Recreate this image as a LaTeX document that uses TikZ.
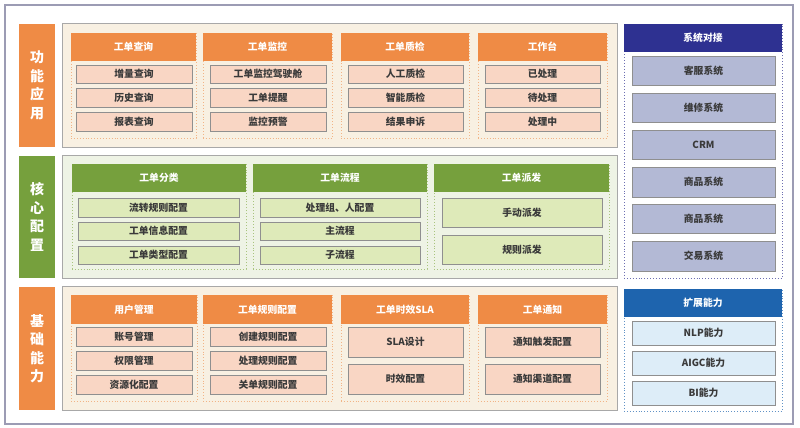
\documentclass[tikz,border=0pt]{standalone}
\usepackage{fontspec}
\setmainfont{Noto Sans CJK SC}
\definecolor{org}{HTML}{EF8B45}
\definecolor{peach}{HTML}{F9D6C4}
\definecolor{cream}{HTML}{F8F0E2}
\definecolor{orgdot}{HTML}{F2B486}
\definecolor{grn}{HTML}{76A03D}
\definecolor{grnitem}{HTML}{DEEAB9}
\definecolor{grnpanel}{HTML}{EEF3E5}
\definecolor{grndot}{HTML}{A9C47E}
\definecolor{navy}{HTML}{2E3191}
\definecolor{bgitem}{HTML}{B3B9D5}
\definecolor{blu}{HTML}{1E64AE}
\definecolor{lblu}{HTML}{DDEDF8}
\definecolor{itemline}{HTML}{8F8F8F}
\definecolor{panelline}{HTML}{A8A8A8}
\definecolor{outerline}{HTML}{9C9CB4}
\definecolor{txt}{HTML}{3A3A3A}
\newcommand\bx[7]{\node[#2,inner sep=0pt,outer sep=0pt,minimum width={(#5-#3)*1pt},minimum height={(#6-#4)*1pt}] (#1) at ({(#3+#5)/2},{(#4+#6)/2}) {#7};}
\tikzset{
  lab/.style={fill=org,text=white,font=\fontsize{14}{18.5}\selectfont\bfseries,align=center},
  labg/.style={lab,fill=grn},
  panel/.style={fill=cream,draw=panelline,line width=1pt},
  panelg/.style={panel,fill=grnpanel},
  grp/.style={draw=orgdot,dotted,line width=0.9pt},
  grpg/.style={draw=grndot,dotted,line width=0.9pt},
  grpb/.style={draw=navy!70,dotted,line width=0.9pt},
  grpbl/.style={draw=blu!70,dotted,line width=0.9pt},
  hdr/.style={fill=org,text=white,font=\fontsize{9.8}{11}\selectfont\bfseries},
  hdrg/.style={hdr,fill=grn},
  hdrn/.style={hdr,fill=navy},
  hdrb/.style={hdr,fill=blu},
  item/.style={fill=peach,draw=itemline,line width=0.8pt,text=txt,font=\fontsize{9.8}{11}\selectfont\bfseries},
  itemg/.style={item,fill=grnitem},
  itemn/.style={item,fill=bgitem},
  itemb/.style={item,fill=lblu},
}
\begin{document}
\begin{tikzpicture}[x=1pt,y=-1pt]
\useasboundingbox (0,0) rectangle (800,428);
\fill[white] (0,0) rectangle (800,428);
\bx{outer}{draw=outerline,line width=1.2pt}{5}{5}{793}{424}{}
% ===== Row 1
\bx{l1}{lab}{19}{24}{55}{147}{功\\能\\应\\用}
\bx{p1}{panel}{62}{24}{617}{147}{}
\bx{g11}{grp}{71}{33}{196}{138}{}
\bx{g12}{grp}{203}{33}{332}{138}{}
\bx{g13}{grp}{341}{33}{469}{138}{}
\bx{g14}{grp}{478}{33}{607}{138}{}
\bx{h11}{hdr}{71}{33}{196}{61}{工单查询}
\bx{h12}{hdr}{203}{33}{332}{61}{工单监控}
\bx{h13}{hdr}{341}{33}{469}{61}{工单质检}
\bx{h14}{hdr}{478}{33}{607}{61}{工作台}
\bx{i111}{item}{76}{65}{192}{83}{增量查询}
\bx{i112}{item}{76}{88}{192}{107}{历史查询}
\bx{i113}{item}{76}{112}{192}{131}{报表查询}
\bx{i121}{item}{210}{65}{326}{83}{工单监控驾驶舱}
\bx{i122}{item}{210}{88}{326}{107}{工单提醒}
\bx{i123}{item}{210}{112}{326}{131}{监控预警}
\bx{i131}{item}{348}{65}{463}{83}{人工质检}
\bx{i132}{item}{348}{88}{463}{107}{智能质检}
\bx{i133}{item}{348}{112}{463}{131}{结果申诉}
\bx{i141}{item}{485}{65}{600}{83}{已处理}
\bx{i142}{item}{485}{88}{600}{107}{待处理}
\bx{i143}{item}{485}{112}{600}{131}{处理中}
% ===== Row 2
\bx{l2}{labg}{19}{156}{55}{278}{核\\心\\配\\置}
\bx{p2}{panelg}{62}{155}{617}{278}{}
\bx{g21}{grpg}{72}{164}{246}{269}{}
\bx{g22}{grpg}{253}{164}{427}{269}{}
\bx{g23}{grpg}{434}{164}{609}{269}{}
\bx{h21}{hdrg}{72}{164}{246}{192}{工单分类}
\bx{h22}{hdrg}{253}{164}{427}{192}{工单流程}
\bx{h23}{hdrg}{434}{164}{609}{192}{工单派发}
\bx{i211}{itemg}{78}{198}{239}{217}{流转规则配置}
\bx{i212}{itemg}{78}{222}{239}{240}{工单信息配置}
\bx{i213}{itemg}{78}{246}{239}{264}{工单类型配置}
\bx{i221}{itemg}{260}{198}{420}{217}{处理组、人配置}
\bx{i222}{itemg}{260}{222}{420}{240}{主流程}
\bx{i223}{itemg}{260}{246}{420}{264}{子流程}
\bx{i231}{itemg}{442}{198}{602}{227}{手动派发}
\bx{i232}{itemg}{442}{235}{602}{264}{规则派发}
% ===== Row 3
\bx{l3}{lab}{19}{287}{55}{410}{基\\础\\能\\力}
\bx{p3}{panel}{62}{286}{617}{410}{}
\bx{g31}{grp}{71}{295}{197}{401}{}
\bx{g32}{grp}{203}{295}{332}{401}{}
\bx{g33}{grp}{341}{295}{469}{401}{}
\bx{g34}{grp}{478}{295}{607}{401}{}
\bx{h31}{hdr}{71}{295}{197}{324}{用户管理}
\bx{h32}{hdr}{203}{295}{332}{324}{工单规则配置}
\bx{h33}{hdr}{341}{295}{469}{324}{工单时效SLA}
\bx{h34}{hdr}{478}{295}{607}{324}{工单通知}
\bx{i311}{item}{76}{327}{192}{346}{账号管理}
\bx{i312}{item}{76}{351}{192}{370}{权限管理}
\bx{i313}{item}{76}{375}{192}{394}{资源化配置}
\bx{i321}{item}{210}{327}{326}{346}{创建规则配置}
\bx{i322}{item}{210}{351}{326}{370}{处理规则配置}
\bx{i323}{item}{210}{375}{326}{394}{关单规则配置}
\bx{i331}{item}{348}{327}{463}{357}{SLA设计}
\bx{i332}{item}{348}{364}{463}{394}{时效配置}
\bx{i341}{item}{485}{327}{600}{357}{通知触发配置}
\bx{i342}{item}{485}{364}{600}{394}{通知渠道配置}
% ===== Right column
\bx{r1}{grpb}{624}{24}{782}{278}{}
\bx{rh1}{hdrn}{624}{24}{782}{52}{系统对接}
\bx{ri1}{itemn}{632}{56}{775}{85}{客服系统}
\bx{ri2}{itemn}{632}{93}{775}{122}{维修系统}
\bx{ri3}{itemn}{632}{130}{775}{159}{CRM}
\bx{ri4}{itemn}{632}{167}{775}{197}{商品系统}
\bx{ri5}{itemn}{632}{204}{775}{233}{商品系统}
\bx{ri6}{itemn}{632}{241}{775}{271}{交易系统}
\bx{r2}{grpbl}{624}{289}{782}{411}{}
\bx{rh2}{hdrb}{624}{289}{782}{317}{扩展能力}
\bx{rj1}{itemb}{632}{321}{775}{345}{NLP能力}
\bx{rj2}{itemb}{632}{351}{775}{375}{AIGC能力}
\bx{rj3}{itemb}{632}{381}{775}{405}{BI能力}
\end{tikzpicture}
\end{document}
